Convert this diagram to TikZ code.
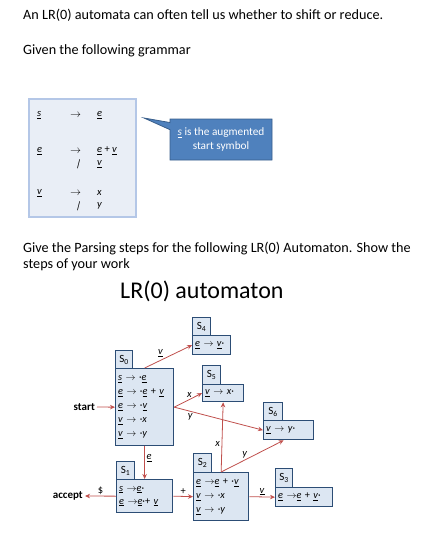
\documentclass[tikz,border=0pt]{standalone}
\usepackage{fontspec}
\setmainfont{Carlito}
\usetikzlibrary{arrows.meta,shapes.callouts}
\definecolor{stfill}{HTML}{DCE6F2}
\definecolor{stdraw}{HTML}{2C4D75}
\definecolor{arrc}{HTML}{C0504D}
\definecolor{gfill}{HTML}{E9EEF6}
\definecolor{gdraw}{HTML}{B4C7E7}
\definecolor{cfill}{HTML}{4F81BD}
\definecolor{cdraw}{HTML}{385D8A}
\newcommand\nt[1]{\underline{\textit{#1}}}
\newcommand\myto{$\rightarrow$}
\newcommand\mydot{·}
\newcommand\mybar{\rotatebox[origin=c]{-14}{|}}
\tikzset{
  body/.style={anchor=base west, inner sep=0pt, font=\fontsize{14.2}{17}\selectfont},
  gram/.style={anchor=west, inner sep=0pt, font=\fontsize{10.5}{12}\selectfont},
  tabbox/.style={draw=stdraw, fill=stfill, line width=1.3pt, anchor=north west, inner sep=0pt, font=\fontsize{11}{12}\selectfont},
  stbox/.style={draw=stdraw, fill=stfill, line width=1.3pt, anchor=north west, inner xsep=2.5pt, inner ysep=0pt, align=left, font=\fontsize{10.3}{14}\selectfont},
  trans/.style={draw=arrc, line width=0.8pt, -{Stealth[length=5pt,width=4.5pt]}},
  lab/.style={font=\fontsize{10.5}{12}\selectfont, inner sep=1.5pt, text=black},
  term/.style={font=\bfseries\fontsize{11}{12}\selectfont, inner sep=2pt}
}
\begin{document}
\begin{tikzpicture}[x=1pt,y=-1pt]
\useasboundingbox (0,0) rectangle (424,539);
% texts
\node[body] (t1) at (23,19) {An LR(0) automata can often tell us whether to shift or reduce.};
\node[body] (t2) at (23,54) {Given the following grammar};
\node[body] (t3) at (23,252) {Give the Parsing steps for the following LR(0) Automaton. Show the};
\node[body] (t4) at (23,268) {steps of your work};
\node[anchor=base west, inner sep=0pt, font=\fontsize{24}{28}\selectfont] (title) at (120,298) {LR(0) automaton};
% grammar box
\node[draw=gdraw, fill=gfill, line width=2.2pt, anchor=north west, minimum width=107, minimum height=118, inner sep=0pt] (gbox) at (28,98) {};
\node[gram] (g1a) at (37,115) {\nt{s}};
\node[gram] (g1b) at (70,115) {\myto};
\node[gram] (g1c) at (97,115) {\nt{e}};
\node[gram] (g2a) at (37,151) {\nt{e}};
\node[gram] (g2b) at (70,151) {\myto};
\node[gram] (g2c) at (97,151) {\nt{e} + \nt{v}};
\node[gram] (g3b) at (75,164) {\mybar};
\node[gram] (g3c) at (97,164) {\nt{v}};
\node[gram] (g4a) at (37,193) {\nt{v}};
\node[gram] (g4b) at (70,193) {\myto};
\node[gram] (g4c) at (97,193) {\textit{x}};
\node[gram] (g5b) at (75,206) {\mybar};
\node[gram] (g5c) at (97,206) {\textit{y}};
% callout
\node[rectangle callout, callout absolute pointer={(144,118)}, fill=cfill, draw=cdraw, line width=0.8pt, minimum width=102, minimum height=41, inner sep=1pt, align=center, text=white, font=\fontsize{11.3}{13.5}\selectfont] (call) at (221,139.5) {\nt{s} is the augmented\\start symbol};
% states
\node[tabbox, minimum width=17, minimum height=18] (s0t) at (115,350) {S\textsubscript{0}};
\node[stbox, text width=53, minimum height=77] (s0) at (115,368) {\nt{s} \myto\ \mydot\nt{e}\\\nt{e} \myto\ \mydot\nt{e} + \nt{v}\\\nt{e} \myto\ \mydot\nt{v}\\\nt{v} \myto\ \mydot\textit{x}\\\nt{v} \myto\ \mydot\textit{y}};
\node[tabbox, minimum width=18, minimum height=18] (s4t) at (192,317) {S\textsubscript{4}};
\node[stbox, text width=33, minimum height=19] (s4) at (192,335) {\nt{e} \myto\ \nt{v}\mydot};
\node[tabbox, minimum width=18, minimum height=19] (s5t) at (202,365) {S\textsubscript{5}};
\node[stbox, text width=36, minimum height=17] (s5) at (202,384) {\nt{v} \myto\ \textit{x}\mydot};
\node[tabbox, minimum width=19, minimum height=18] (s6t) at (263,402) {S\textsubscript{6}};
\node[stbox, text width=45, minimum height=19] (s6) at (263,420) {\nt{v} \myto\ \textit{y}\mydot};
\node[tabbox, minimum width=18, minimum height=19] (s2t) at (193,453) {S\textsubscript{2}};
\node[stbox, text width=50, minimum height=48] (s2) at (193,472) {\nt{e} \myto\nt{e} + \mydot\nt{v}\\\nt{v} \myto\ \mydot\textit{x}\\\nt{v} \myto\ \mydot\textit{y}};
\node[tabbox, minimum width=17, minimum height=19] (s3t) at (275,468) {S\textsubscript{3}};
\node[stbox, text width=52, minimum height=19] (s3) at (275,487) {\nt{e} \myto\nt{e} + \nt{v}\mydot};
\node[tabbox, minimum width=18, minimum height=18] (s1t) at (116,461) {S\textsubscript{1}};
\node[stbox, text width=51, minimum height=33, font=\fontsize{10.3}{13}\selectfont] (s1) at (116,479) {\nt{s} \myto\nt{e}\mydot\\\nt{e} \myto\nt{e}\mydot + \nt{v}};
% terminals
\node[term, anchor=east] (start) at (97,407) {start};
\node[term, anchor=east] (accept) at (85,496) {accept};
% transitions
\draw[trans] (start.east) -- (s0.west);
\draw[trans] (s0.north) -- node[lab, pos=0.42, anchor=south, xshift=-4pt] {\nt{v}} (s4.west);
\draw[trans] (s0.east) -- node[lab, pos=0.55, above] {\textit{x}} (s5.west);
\draw[trans] (s0.east) -- node[lab, pos=0.18, below] {\textit{y}} (s6.west);
\draw[trans] (s0.south) -- node[lab, pos=0.35, right] {\nt{e}} (s1.north);
\draw[trans] (s1.east) -- node[lab, midway, above] {+} (s2.west);
\draw[trans] (s1.west) -- node[lab, midway, above] {\$} (accept.east);
\draw[trans] (s2.north) -- node[lab, pos=0.4, left] {\textit{x}} (s5.south);
\draw[trans] (s2.north) -- node[lab, pos=0.38, above] {\textit{y}} ([xshift=-5pt]s6.south);
\draw[trans] (s2.east) -- node[lab, midway, above] {\nt{v}} (s3.west);
\end{tikzpicture}
\end{document}
